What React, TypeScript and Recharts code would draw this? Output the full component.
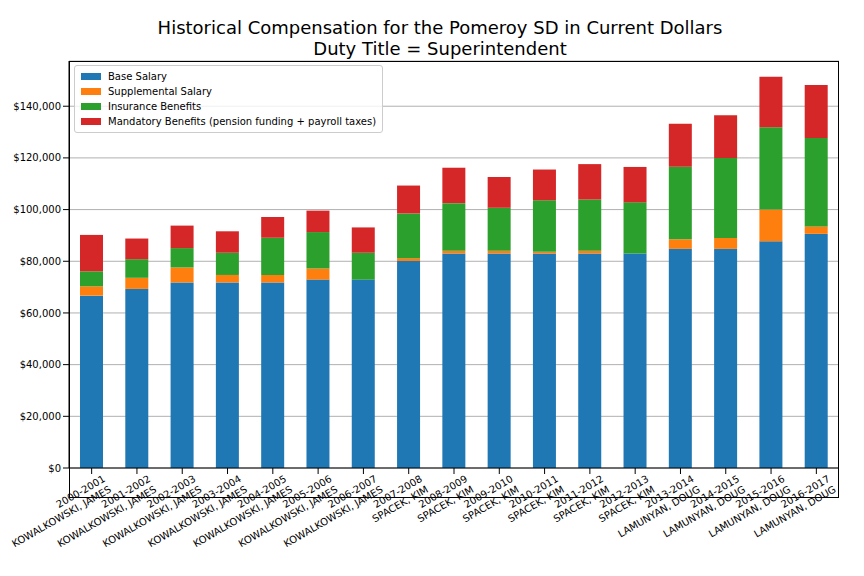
import React from 'react';
import { BarChart, Bar, XAxis, YAxis, CartesianGrid } from 'recharts';

const years = ['2000-2001','2001-2002','2002-2003','2003-2004','2004-2005','2005-2006','2006-2007','2007-2008','2008-2009','2009-2010','2010-2011','2011-2012','2012-2013','2013-2014','2014-2015','2015-2016','2016-2017'];
const names = ['KOWALKOWSKI, JAMES','KOWALKOWSKI, JAMES','KOWALKOWSKI, JAMES','KOWALKOWSKI, JAMES','KOWALKOWSKI, JAMES','KOWALKOWSKI, JAMES','KOWALKOWSKI, JAMES','SPACEK, KIM','SPACEK, KIM','SPACEK, KIM','SPACEK, KIM','SPACEK, KIM','SPACEK, KIM','LAMUNYAN, DOUG','LAMUNYAN, DOUG','LAMUNYAN, DOUG','LAMUNYAN, DOUG'];
const base = [66700,69300,71800,71800,71800,72900,72900,80100,83000,83000,83000,83000,83000,84800,84800,87700,90600];
const supp = [3600,4300,5800,2900,2900,4300,0,1100,1100,1100,700,1100,0,3700,4200,12300,2900];
const ins = [5800,7200,7500,8600,14400,14100,10400,17300,18400,16600,19900,19800,19800,28100,31000,31900,34200];
const mand = [14100,8000,8700,8300,8000,8300,9800,10800,13700,11900,11900,13700,13700,16600,16500,19500,20500];

const data = years.map((y, i) => ({ y, n: names[i], base: base[i], supp: supp[i], ins: ins[i], mand: mand[i] }));
const yTicks = [0,20000,40000,60000,80000,100000,120000,140000];
const fmt = (v: number) => '$' + v.toLocaleString('en-US');
const font = 'DejaVu Sans';

const Tick = (props: any) => {
  const { x, y, payload, index } = props;
  return (
    <g transform={`translate(${x},${y + 4})`}>
      <text transform="rotate(-30)" textAnchor="end" fontSize={10} fontFamily={font} fill="#000">
        <tspan x={12} dy={8}>{payload.value}</tspan>
        <tspan x={12} dy={12}>{data[index] ? data[index].n : ''}</tspan>
      </text>
    </g>
  );
};

const legend = [
  ['Base Salary', '#1f77b4'],
  ['Supplemental Salary', '#ff7f0e'],
  ['Insurance Benefits', '#2ca02c'],
  ['Mandatory Benefits (pension funding + payroll taxes)', '#d62728'],
];

export default function App() {
  return (
    <div style={{ position: 'relative', width: 864, height: 576, background: '#fff', fontFamily: font }}>
      <div style={{ position: 'absolute', top: 9, width: 864, textAlign: 'center', fontSize: 18, lineHeight: '21px' }}>
        Historical Compensation for the Pomeroy SD in Current Dollars<br />Duty Title = Superintendent
      </div>
      <BarChart width={864} height={576} data={data} margin={{ top: 53, right: 33, bottom: 86, left: 0 }} barCategoryGap="0%">
        <CartesianGrid horizontal vertical={false} stroke="#b0b0b0" />
        <XAxis dataKey="y" tick={<Tick />} interval={0} stroke="#000" tickLine={{ stroke: '#000' }} />
        <YAxis domain={[0, 157500]} ticks={yTicks} tickFormatter={fmt} width={61} tick={{ fontSize: 10, fill: '#000', fontFamily: font }} stroke="#000" allowDataOverflow />
        <Bar dataKey="base" stackId="a" fill="#1f77b4" barSize={23} isAnimationActive={false} />
        <Bar dataKey="supp" stackId="a" fill="#ff7f0e" barSize={23} isAnimationActive={false} />
        <Bar dataKey="ins" stackId="a" fill="#2ca02c" barSize={23} isAnimationActive={false} />
        <Bar dataKey="mand" stackId="a" fill="#d62728" barSize={23} isAnimationActive={false} />
      </BarChart>
      <div style={{ position: 'absolute', left: 61, top: 53, width: 770, height: 437, border: '1px solid #000', boxSizing: 'border-box', pointerEvents: 'none' }} />
      <div style={{ position: 'absolute', left: 66, top: 57, border: '1px solid #ccc', borderRadius: 3, padding: '3px 6px', background: 'rgba(255,255,255,0.8)', fontSize: 10 }}>
        {legend.map(([l, c]) => (
          <div key={l} style={{ display: 'flex', alignItems: 'center', height: 15 }}>
            <span style={{ display: 'inline-block', width: 20, height: 7, background: c, marginRight: 7 }} />
            {l}
          </div>
        ))}
      </div>
    </div>
  );
}
